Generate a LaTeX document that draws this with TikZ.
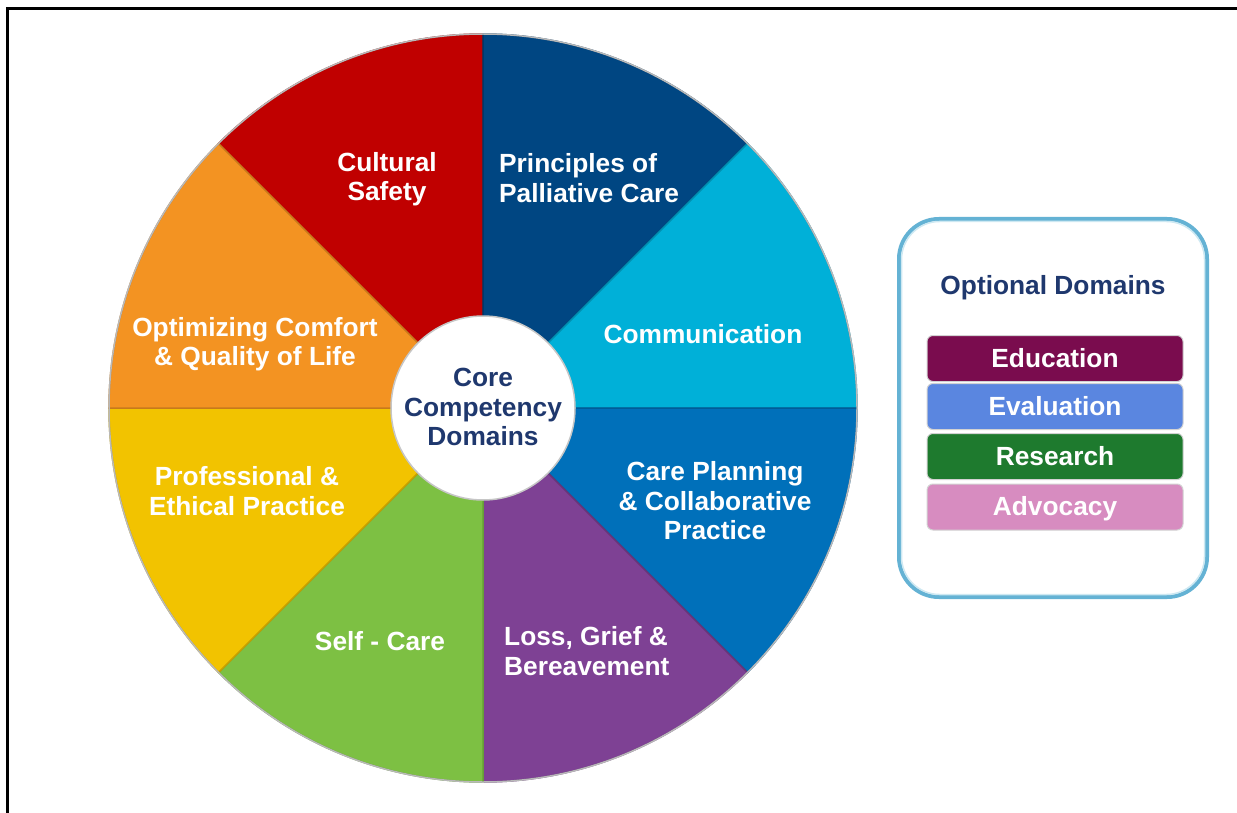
\documentclass[tikz,border=0pt]{standalone}
\usepackage{fontspec}
\setmainfont{Liberation Sans}
\definecolor{cSafety}{RGB}{192,0,0}
\definecolor{cPrinciples}{RGB}{0,70,130}
\definecolor{cComm}{RGB}{0,176,216}
\definecolor{cPlanning}{RGB}{0,112,186}
\definecolor{cLoss}{RGB}{126,65,148}
\definecolor{cSelf}{RGB}{125,192,67}
\definecolor{cProf}{RGB}{242,195,0}
\definecolor{cComfort}{RGB}{243,147,34}
\definecolor{coreText}{RGB}{31,56,110}
\definecolor{frameBlue}{RGB}{100,178,212}
\definecolor{frameLight}{RGB}{205,232,242}
\definecolor{cEdu}{RGB}{122,12,78}
\definecolor{cEval}{RGB}{90,134,224}
\definecolor{cRes}{RGB}{30,122,46}
\definecolor{cAdv}{RGB}{215,140,192}
\begin{document}
\begin{tikzpicture}[x=1pt,y=1pt,
  bigfont/.style={font=\bfseries\fontsize{26.3}{29.5}\selectfont},
  lbl/.style={bigfont, text=white, align=center, inner sep=0pt},
  lbll/.style={bigfont, text=white, align=left, inner sep=0pt, anchor=west},
  corelbl/.style={bigfont, text=coreText, align=center, inner sep=0pt},
  optbox/.style={bigfont, text=white, rounded corners=6pt, draw=gray!35,
    line width=1pt, minimum width=256pt, minimum height=46pt, inner sep=0pt,
    text depth=2pt}]
\useasboundingbox (0,0) rectangle (1237,-813);
\fill[white] (0,0) rectangle (1237,-813);
% page frame
\draw[line width=3pt] (7.5,-813) -- (7.5,-9) -- (1237,-9);

% the wheel of core domains
\begin{scope}[shift={(483,-408)}]
  \foreach \a/\col in {90/cSafety, 45/cPrinciples, 0/cComm, -45/cPlanning,
                       -90/cLoss, -135/cSelf, 180/cProf, 135/cComfort}
    \filldraw[fill=\col, draw=\col!82!black, line width=1.5pt]
      (0,0) -- (\a:374) arc[start angle=\a, end angle=\a+45, radius=374] -- cycle;
  \draw[gray!55, line width=1.5pt] (0,0) circle[radius=374];
  \filldraw[fill=white, draw=gray!45, line width=1.5pt] (0,0) circle[radius=92];
\end{scope}

% wheel labels
\node[corelbl] (core) at (483,-407) {Core\\Competency\\Domains};
\node[lbl] (safety) at (387,-179) {Cultural\\Safety};
\node[lbll] (principles) at (499,-178) {Principles of\\Palliative Care};
\node[lbl] (comm) at (703,-334) {Communication};
\node[lbl] (planning) at (715,-501) {Care Planning\\\& Collaborative\\Practice};
\node[lbll] (loss) at (504,-651) {Loss, Grief \&\\Bereavement};
\node[lbl] (self) at (380,-641) {Self - Care};
\node[lbl] (prof) at (247,-491) {Professional \&\\Ethical Practice};
\node[lbl] (comfort) at (255,-344) {Optimizing Comfort\\\& Quality of Life};

% optional domains panel
\draw[frameBlue, line width=4pt, rounded corners=40pt] (899,-219) rectangle (1207,-597);
\draw[frameLight, line width=1.5pt, rounded corners=38pt] (901.5,-221.5) rectangle (1204.5,-594.5);
\node[corelbl] (opttitle) at (1053,-288) {Optional Domains};
\node[optbox, fill=cEdu] (edu) at (1055,-358.5) {Education};
\node[optbox, fill=cEval] (eval) at (1055,-406.5) {Evaluation};
\node[optbox, fill=cRes] (res) at (1055,-456.5) {Research};
\node[optbox, fill=cAdv] (adv) at (1055,-507) {Advocacy};
\end{tikzpicture}
\end{document}
